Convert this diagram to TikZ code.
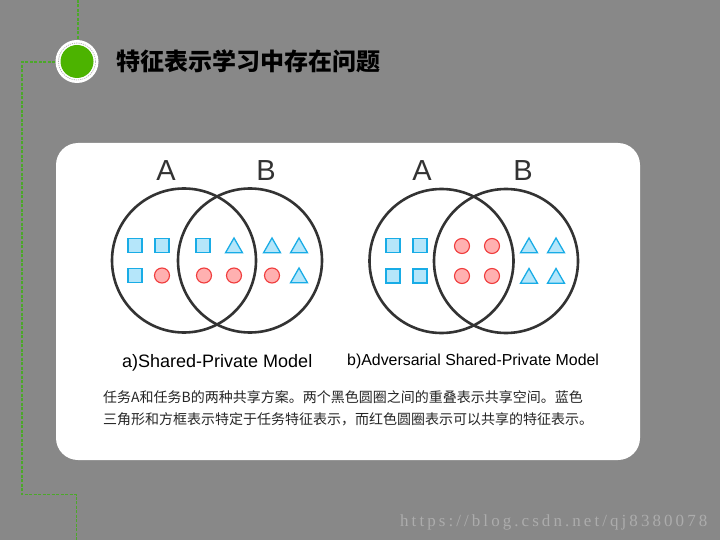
\documentclass[tikz,border=0pt]{standalone}
\usepackage{fontspec}
\usetikzlibrary{calc}
\setmainfont{Liberation Sans}
\newfontfamily\cjk{Noto Sans CJK SC}
\newfontfamily\wmfont{Liberation Serif}
\definecolor{bggray}{HTML}{888888}
\definecolor{lgreen}{HTML}{4CB300}
\definecolor{linegreen}{HTML}{4CA82A}
\definecolor{sqfill}{HTML}{B5E6FA}
\definecolor{sqdraw}{HTML}{18ACE6}
\definecolor{rdfill}{HTML}{FFB0B0}
\definecolor{rddraw}{HTML}{F03C3C}
\definecolor{ringc}{HTML}{333333}
\begin{document}
\begin{tikzpicture}[x=1pt,y=-1pt,
  guide/.style={draw=linegreen,line width=1.2pt,dash pattern=on 3pt off 1.5pt},
  sq/.style={draw=sqdraw,fill=sqfill,line width=1.4pt,minimum size=14pt,inner sep=0pt,rectangle},
  rc/.style={draw=rddraw,fill=rdfill,line width=1.1pt,circle,minimum size=15pt,inner sep=0pt},
  ring/.style={draw=ringc,line width=2.6pt,circle,minimum size=144pt,inner sep=0pt},
  lab/.style={text=ringc,font=\fontsize{29}{29}\selectfont,inner sep=0pt},
  tri/.style={draw=sqdraw,fill=sqfill,line width=1.3pt,line join=miter},
]
\fill[bggray] (0,0) rectangle (720,540);
\useasboundingbox (0,0) rectangle (720,540);
% guide lines
\coordinate (g1) at (78,0);
\coordinate (g2) at (78,40);
\coordinate (h1) at (55,62);
\coordinate (h2) at (22,62);
\coordinate (h3) at (22,494.5);
\coordinate (h4) at (76.5,494.5);
\coordinate (h5) at (76.5,540);
\draw[guide] (g1) -- (g2);
\draw[guide] (h1) -- (h2) -- (h3) -- (h4) -- (h5);
% icon
\node[circle,fill=white,minimum size=43pt,inner sep=0pt] (icon) at (77,61.5) {};
\node[circle,draw=gray!70,dash pattern=on 1.2pt off 1pt,line width=0.6pt,minimum size=37pt,inner sep=0pt] (iconring) at (icon) {};
\node[circle,fill=lgreen,minimum size=33pt,inner sep=0pt] (icondot) at (icon) {};
\node[anchor=west,inner sep=0pt,font=\cjk\bfseries\fontsize{24}{24}\selectfont] (title) at (116,61) {特征表示学习中存在问题};
% panel
\node[fill=white,rounded corners=22pt,minimum width=584pt,minimum height=317pt,inner sep=0pt] (panel) at (348,301.5) {};
% Venn a
\node[ring] (a1) at (184,260.5) {};
\node[ring] (a2) at (250,260.5) {};
\node[lab] (aA) at (166,171) {A};
\node[lab] (aB) at (266,171) {B};
\node[sq] (s1) at (135,245.5) {};
\node[sq] (s2) at (162,245.5) {};
\node[sq] (s3) at (203,245.5) {};
\node[sq] (s4) at (135,275.5) {};
\node[rc] (c1) at (162,275.5) {};
\node[rc] (c2) at (204,275.5) {};
\node[rc] (c3) at (234,275.5) {};
\node[rc] (c4) at (272,275.5) {};
\foreach \n/\x/\y in {t1/234/245.5,t2/272/245.5,t3/299/245.5,t4/299/275.5}{
  \coordinate (\n) at (\x,\y);
  \draw[tri] ($(\n)+(-8.5,7.3)$) -- ($(\n)+(8.5,7.3)$) -- ($(\n)+(0,-7.5)$) -- cycle;
}
% Venn b
\node[ring] (b1) at (441.5,261) {};
\node[ring] (b2) at (506,261) {};
\node[lab] (bA) at (422,171) {A};
\node[lab] (bB) at (523,171) {B};
\node[sq] (q1) at (393,245.5) {};
\node[sq] (q2) at (420,245.5) {};
\node[sq] (q3) at (393,276) {};
\node[sq] (q4) at (420,276) {};
\node[rc] (d1) at (462,246) {};
\node[rc] (d2) at (492,246) {};
\node[rc] (d3) at (462,276) {};
\node[rc] (d4) at (492,276) {};
\foreach \n/\x/\y in {u1/529/245.5,u2/556/245.5,u3/529/276,u4/556/276}{
  \coordinate (\n) at (\x,\y);
  \draw[tri] ($(\n)+(-8.5,7.3)$) -- ($(\n)+(8.5,7.3)$) -- ($(\n)+(0,-7.5)$) -- cycle;
}
% captions
\node[anchor=base west,inner sep=0pt,font=\fontsize{18}{18}\selectfont,text=black] (capa) at (122,367) {a)Shared-Private Model};
\node[anchor=base west,inner sep=0pt,font=\fontsize{15.9}{15.9}\selectfont,text=black] (capb) at (347,365) {b)Adversarial Shared-Private Model};
% description
\node[anchor=north west,inner sep=0pt,align=left,text=black!85,font=\cjk\fontsize{14}{22}\selectfont] (desc) at (103,390) {任务A和任务B的两种共享方案。两个黑色圆圈之间的重叠表示共享空间。蓝色\\三角形和方框表示特定于任务特征表示，而红色圆圈表示可以共享的特征表示。};
% watermark
\node[anchor=base west,inner sep=0pt,text=white!30!bggray,font=\wmfont\fontsize{17}{17}\selectfont] (wm) at (400,526) {\addfontfeatures{LetterSpace=18}https://blog.csdn.net/qj8380078};
\end{tikzpicture}
\end{document}
